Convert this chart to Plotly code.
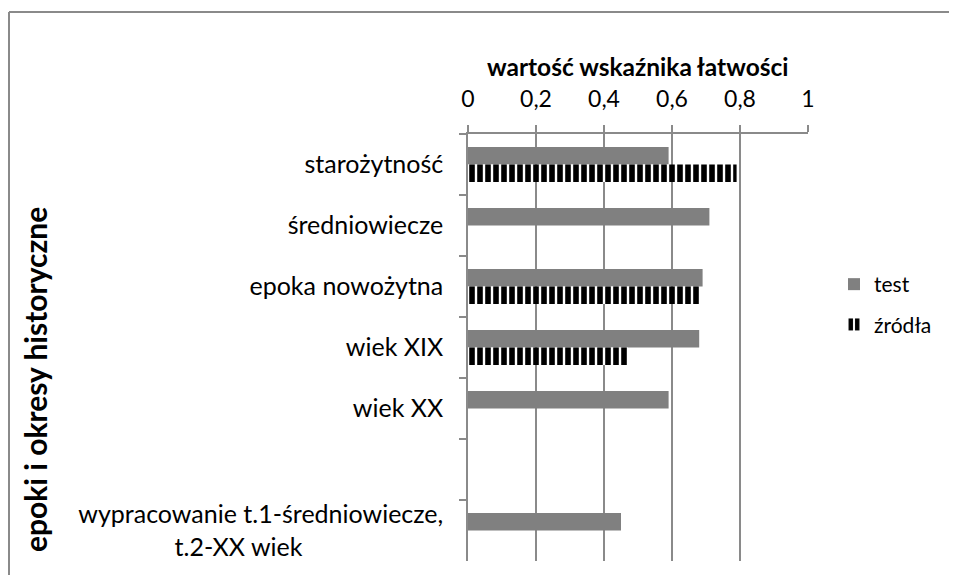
import plotly.graph_objects as go

categories = ["starożytność", "średniowiecze", "epoka nowożytna", "wiek XIX", "wiek XX", " ",
              "wypracowanie t.1-średniowiecze,<br>t.2-XX wiek" + "\u00a0" * 22]
test_vals = [0.59, 0.71, 0.69, 0.68, 0.59, None, 0.45]
zrodla_vals = [0.79, None, 0.68, 0.47, None, None, None]
x_ticks = [0, 0.2, 0.4, 0.6, 0.8, 1]

FONT = "Lato"
GRID = "#8a8a8a"

fig = go.Figure()
fig.add_trace(go.Bar(
    y=categories, x=test_vals, orientation="h", name="test",
    marker=dict(color="#808080", line=dict(width=0)),
    legendgroup="a",
))
fig.add_trace(go.Bar(
    y=categories, x=zrodla_vals, orientation="h", name="źródła",
    marker=dict(color="white", line=dict(width=0),
                pattern=dict(shape="|", fgcolor="#000000", bgcolor="white",
                             fgopacity=1, size=8, solidity=0.7)),
    legendgroup="b",
))

W, H = 941, 567
L, R, T, B = 460, 141, 126, 14
pw, ph = W - L - R, H - T - B

def px(x):
    return (x - L) / pw

def py(y):
    return (H - B - y) / ph

fig.update_layout(
    width=W, height=H,
    margin=dict(l=L, r=R, t=T, b=B, autoexpand=False),
    paper_bgcolor="white", plot_bgcolor="white",
    separators=", ",
    barmode="group", bargap=0.43, bargroupgap=0,
    font=dict(family=FONT, size=22, color="black"),
    showlegend=True,
    legend=dict(x=px(826), y=py(256), xanchor="left", yanchor="top",
                font=dict(family=FONT, size=21), tracegroupgap=10,
                itemwidth=30, bgcolor="rgba(0,0,0,0)"),
    xaxis=dict(side="top", range=[0, 1], tickvals=x_ticks, tickformat=".1~f",
               showgrid=True, gridcolor=GRID, gridwidth=1.5,
               showline=True, linecolor=GRID, linewidth=1.5,
               ticks="outside", ticklen=7, tickcolor=GRID, tickwidth=1.5,
               tickfont=dict(family=FONT, size=23), zeroline=False,
               ticklabelstandoff=9, fixedrange=True),
    yaxis=dict(categoryorder="array", categoryarray=categories,
               autorange="reversed", type="category",
               showline=True, linecolor=GRID, linewidth=1.5,
               ticks="outside", tickson="boundaries", ticklen=7,
               tickcolor=GRID, tickwidth=1.5, showgrid=False,
               tickfont=dict(family=FONT, size=25),
               ticklabelstandoff=18, fixedrange=True),
    annotations=[
        dict(text="<b>wartość wskaźnika łatwości</b>", x=0.5, y=py(58),
             xref="paper", yref="paper", showarrow=False,
             font=dict(family=FONT, size=24.5), xanchor="center", yanchor="middle"),
        dict(text="<b>epoki i okresy historyczne</b>", x=px(27), y=py(372),
             xref="paper", yref="paper", showarrow=False, textangle=-90,
             font=dict(family=FONT, size=30), xanchor="center", yanchor="middle"),
    ],
    shapes=[
        dict(type="line", xref="paper", yref="paper",
             x0=px(1), y0=py(4), x1=px(1), y1=py(700),
             line=dict(color="#8a8a8a", width=2), layer="below"),
        dict(type="line", xref="paper", yref="paper",
             x0=px(1), y0=py(4), x1=px(1100), y1=py(4),
             line=dict(color="#8a8a8a", width=2), layer="below"),
    ],
)

fig.write_html("out.html")
